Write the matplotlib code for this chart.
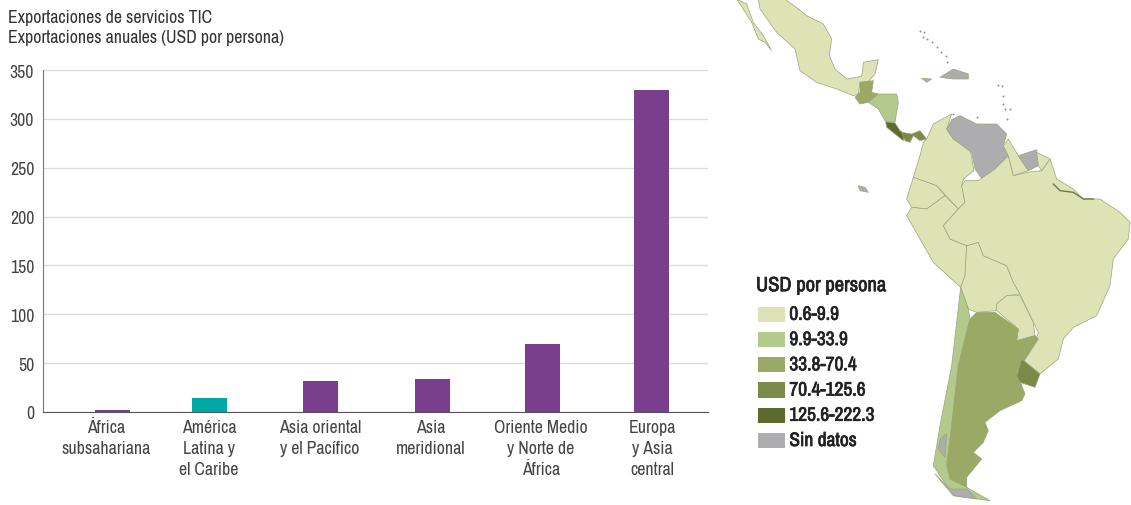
# -*- coding=utf-8 -*-
import matplotlib
matplotlib.use('Agg')
import matplotlib.pyplot as plt
import matplotlib.patheffects as pe
from matplotlib.patches import Polygon, Rectangle

plt.rcParams['font.family'] = ['Archivo Narrow', 'Liberation Sans', 'DejaVu Sans']

# datos de las barras
regiones = ['África\nsubsahariana', 'América\nLatina y\nel Caribe', 'Asia oriental\ny el Pacífico',
            'Asia\nmeridional', 'Oriente Medio\ny Norte de\nÁfrica', 'Europa\ny Asia\ncentral']
exportaciones = [2, 14, 32, 34, 70, 330]
colores_barras = ['#7a3e8f', '#00a9a5', '#7a3e8f', '#7a3e8f', '#7a3e8f', '#7a3e8f']
ticks_y = [0, 50, 100, 150, 200, 250, 300, 350]

# leyenda del mapa
leyenda_textos = ['0.6-9.9', '9.9-33.9', '33.8-70.4', '70.4-125.6', '125.6-222.3', 'Sin datos']
leyenda_colores = ['#dde3b4', '#b3ca8c', '#9aa964', '#7b8a49', '#5d6a2e', '#adadb0']

# contornos de los paises, clase de la leyenda y puntos
mexico = [(115, 0), (195, 0), (235, 30), (260, 50), (310, 75), (335, 120), (328, 170), (345, 210), (380, 240),
          (425, 232), (430, 190), (475, 182), (465, 225), (445, 248), (420, 250), (415, 285), (400, 290),
          (350, 270), (290, 250), (240, 215), (225, 150), (170, 100), (120, 30)]
baja = [(50, 0), (80, 15), (100, 70), (130, 110), (155, 155), (135, 130), (115, 120), (95, 70)]
guatemala = [(420, 250), (460, 245), (455, 280), (475, 285), (445, 310), (420, 315), (405, 295), (420, 280)]
centroamerica = [(445, 310), (475, 285), (530, 285), (535, 310), (525, 370), (495, 365), (475, 330)]
costa_rica = [(497, 368), (525, 372), (540, 395), (555, 405), (550, 425), (525, 405), (500, 385)]
panama = [(545, 400), (575, 405), (600, 395), (620, 420), (600, 425), (580, 410), (570, 430), (555, 425)]
colombia = [(620, 420), (640, 375), (695, 345), (680, 390), (700, 420), (750, 450), (762, 515), (730, 540),
            (725, 560), (735, 610), (715, 630), (650, 560), (580, 535), (600, 470), (610, 430)]
venezuela = [(680, 390), (695, 362), (720, 350), (770, 375), (830, 375), (860, 405), (850, 440), (865, 470),
             (825, 510), (790, 545), (765, 510), (755, 460), (700, 420)]
ecuador = [(580, 535), (650, 560), (675, 590), (620, 630), (575, 625), (560, 600)]
peru = [(575, 625), (620, 630), (675, 590), (715, 630), (670, 680), (690, 720), (740, 740), (735, 830),
        (722, 865), (640, 790), (560, 650)]
bolivia = [(740, 740), (775, 730), (790, 770), (860, 800), (880, 850), (900, 885), (860, 890), (830, 915),
           (830, 935), (770, 940), (745, 930), (722, 865), (735, 830)]
paraguay = [(830, 915), (860, 890), (900, 890), (940, 970), (945, 1010), (890, 1025), (895, 990), (830, 935)]
brasil = [(725, 560), (735, 545), (775, 545), (825, 510), (865, 470), (880, 530), (920, 520), (965, 515),
          (990, 480), (1010, 540), (1060, 570), (1090, 600), (1140, 600), (1200, 640), (1230, 670), (1225, 720),
          (1180, 780), (1170, 860), (1130, 950), (1060, 985), (1030, 1020), (1015, 1080), (960, 1125), (905, 1080),
          (945, 1030), (955, 1000), (940, 970), (900, 885), (880, 850), (860, 800), (790, 770), (775, 730),
          (740, 740), (690, 720), (670, 680), (715, 630), (735, 610)]
guyana = [(865, 420), (895, 470), (925, 515), (880, 530), (865, 470), (850, 440)]
surinam = [(895, 470), (950, 452), (955, 500), (925, 515)]
guayana_fr = [(950, 460), (990, 480), (965, 515), (955, 500)]
chile = [(722, 865), (745, 930), (750, 960), (715, 1100), (695, 1280), (680, 1400), (740, 1465), (810, 1505),
         (700, 1490), (640, 1400), (660, 1280), (695, 1100)]
argentina = [(770, 940), (825, 940), (895, 990), (890, 1025), (945, 1010), (955, 1020), (890, 1120), (915, 1185),
             (905, 1205), (840, 1235), (795, 1270), (805, 1295), (790, 1330), (760, 1360), (785, 1380), (740, 1435),
             (740, 1465), (690, 1440), (680, 1400), (695, 1280), (715, 1100), (750, 960)]
uruguay = [(905, 1080), (960, 1125), (945, 1165), (900, 1150), (890, 1130)]
hispaniola = [(660, 235), (700, 210), (745, 225), (745, 240), (700, 240)]
jamaica = [(605, 238), (635, 240), (620, 250)]
patagonia = [(662, 1318), (680, 1305), (675, 1375), (655, 1350)]
fuego = [(645, 1425), (690, 1470), (740, 1470), (770, 1500), (700, 1490)]
galapagos = [(415, 560), (435, 565), (445, 580), (420, 575)]

paises = [(mexico, 0), (baja, 0), (guatemala, 2), (centroamerica, 1), (costa_rica, 4), (panama, 3),
          (colombia, 0), (venezuela, 5), (ecuador, 0), (peru, 0), (bolivia, 0), (paraguay, 0), (brasil, 0),
          (guyana, 0), (surinam, 5), (guayana_fr, 0), (chile, 1), (argentina, 2), (uruguay, 3),
          (hispaniola, 5), (jamaica, 5), (patagonia, 5), (fuego, 5), (galapagos, 5)]

# islitas del Caribe
islas_x = [600, 612, 620, 635, 650, 662, 678, 680, 610, 835, 845, 850, 848, 855, 870, 860, 770, 700]
islas_y = [95, 100, 120, 130, 145, 160, 170, 190, 115, 258, 260, 290, 315, 330, 330, 360, 355, 345]
costa_x = [1000, 1020, 1060, 1090, 1120]
costa_y = [555, 575, 580, 600, 600]

W, H = 1131, 506
fig = plt.figure(figsize=(W / 100, H / 100), dpi=100, facecolor='white')

# grafico de barras
ax = fig.add_axes([42.5 / W, 1 - 413 / H, (708 - 42.5) / W, (413 - 71) / H])
pos_barras = [112.5, 209.5, 320.5, 432, 542, 651.5]
pos_etiquetas = [106, 209, 320, 431, 541, 652]
ax.bar(pos_barras, exportaciones, width=35, color=colores_barras, zorder=3)
ax.set_xlim(42.5, 708)
ax.set_ylim(0, 350)
ax.set_yticks(ticks_y)
ax.set_xticks(pos_etiquetas)
ax.set_xticklabels(regiones, linespacing=1.4)
ax.grid(axis='y', color='#dcdcdc', linewidth=1, zorder=0)
ax.tick_params(axis='both', length=0, labelsize=12.8, labelcolor='#444444')
ax.tick_params(axis='x', pad=5)
ax.tick_params(axis='y', pad=6)
for s in ['top', 'right']:
    ax.spines[s].set_visible(False)
ax.spines['left'].set_color('#777777')
ax.spines['bottom'].set_color('#555555')
ax.spines['bottom'].set_zorder(4)

fig.text(8 / W, 1 - 18 / H, 'Exportaciones de servicios TIC', fontsize=12.8, color='#333333', va='center')
fig.text(8 / W, 1 - 38 / H, 'Exportaciones anuales (USD por persona)', fontsize=12.8, color='#333333', va='center')

# mapa, en coordenadas de pixel x3
mapa = fig.add_axes([720 / W, 0, 411 / W, 1])
mapa.set_xlim(0, 1233)
mapa.set_ylim(1518, 0)
mapa.axis('off')
for puntos, clase in paises:
    mapa.add_patch(Polygon(puntos, closed=True, facecolor=leyenda_colores[clase],
                           edgecolor='#9aa57c', linewidth=0.5))
mapa.scatter(islas_x, islas_y, s=2, color='#8d8d90', linewidths=0)
mapa.plot(costa_x, costa_y, color='#6f7a4a', linewidth=1)

# el texto de la leyenda va algo mas grueso
grueso = [pe.withStroke(linewidth=0.5, foreground='#222222')]
mapa.text(108, 860, 'USD por persona', fontsize=14.8, color='#222222', va='center', path_effects=grueso)
for i, (txt, col) in enumerate(zip(leyenda_textos, leyenda_colores)):
    y = 946 + i * 75.7
    mapa.add_patch(Rectangle((115, y - 23), 80, 46, facecolor=col, edgecolor='none'))
    mapa.text(208, y, txt, fontsize=14, color='#222222', va='center', path_effects=grueso)

fig.savefig('out.png', dpi=100)
